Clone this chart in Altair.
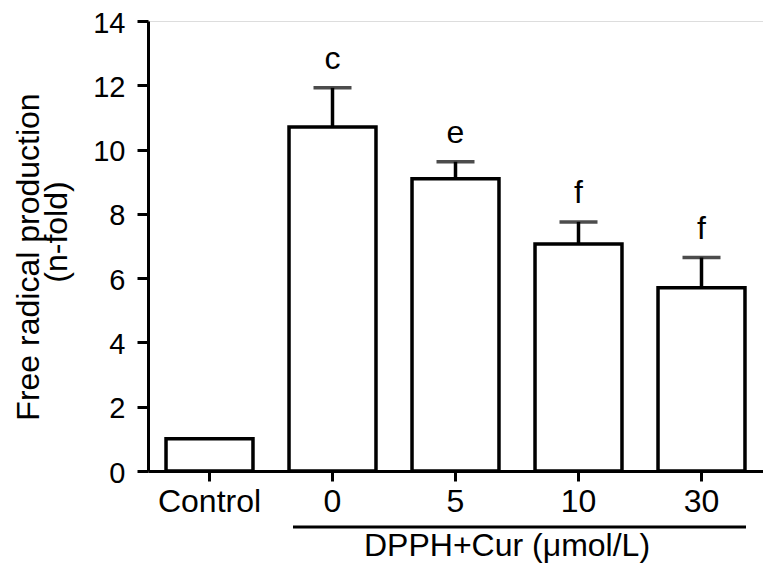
import altair as alt
import pandas as pd

categories = ["Control", "0", "5", "10", "30"]
means = [1.0, 10.70, 9.09, 7.06, 5.70]
errors = [0.0, 1.22, 0.53, 0.69, 0.94]
letters = ["", "c", "e", "f", "f"]
y_ticks = [0, 2, 4, 6, 8, 10, 12, 14]
group_label = ["DPPH+Cur (μmol/L)"]
y_title_lines = ["Free radical production", "(n-fold)"]

FONT = "Liberation Sans"

df = pd.DataFrame({"cat": categories, "mean": means, "err": errors, "letter": letters})
df["top"] = df["mean"] + df["err"]
df_err = df[df["err"] > 0]

x_scale = alt.Scale(domain=categories, paddingInner=0.293, paddingOuter=0.1465)
y_scale = alt.Scale(domain=[0, 14], nice=False)

x_enc = alt.X("cat:N", sort=categories, scale=x_scale,
              axis=alt.Axis(title=None, labelAngle=0, labelFont=FONT, labelFontSize=32,
                            labelColor="black", tickSize=10, tickWidth=3, tickColor="black",
                            domainWidth=3, domainColor="black", labelPadding=5))
y_enc = alt.Y("mean:Q", scale=y_scale,
              axis=alt.Axis(values=y_ticks, title=None, grid=False,
                            labelFont=FONT, labelFontSize=29, labelColor="black",
                            labelOffset=2,
                            tickSize=11, tickWidth=3, tickColor="black",
                            domainWidth=3, domainColor="black", labelPadding=12))

bars = alt.Chart(df).mark_bar(fill="white", stroke="black", strokeWidth=3.5).encode(
    x=x_enc, y=y_enc)

err_rule = alt.Chart(df_err).mark_rule(color="black", strokeWidth=3.5).encode(
    x=alt.X("cat:N", sort=categories, scale=x_scale),
    y=alt.Y("mean:Q", scale=y_scale), y2="top:Q")

err_cap = alt.Chart(df_err).mark_tick(color="black", thickness=3.5, size=38).encode(
    x=alt.X("cat:N", sort=categories, scale=x_scale), y=alt.Y("top:Q", scale=y_scale))

letter_text = alt.Chart(df_err).mark_text(font=FONT, fontSize=32, color="black",
                                         baseline="alphabetic", dy=-19).encode(
    x=alt.X("cat:N", sort=categories, scale=x_scale),
    y=alt.Y("top:Q", scale=y_scale), text="letter:N")

gdf = pd.DataFrame({"label": group_label})
group_line = alt.Chart(gdf).mark_rule(color="black", strokeWidth=3).encode(
    x=alt.value(145), x2=alt.value(598), y=alt.value(506))
group_text = alt.Chart(gdf).mark_text(font=FONT, fontSize=32, color="black",
                                      baseline="middle").encode(
    x=alt.value(359), y=alt.value(525), text="label:N")

t1 = alt.Chart(pd.DataFrame({"t": [y_title_lines[0]]})).mark_text(
    font=FONT, fontSize=32, color="black", angle=270, baseline="alphabetic",
    align="center").encode(x=alt.value(-109), y=alt.value(236), text="t:N")
t2 = alt.Chart(pd.DataFrame({"t": [y_title_lines[1]]})).mark_text(
    font=FONT, fontSize=32, color="black", angle=270, baseline="alphabetic",
    align="center").encode(x=alt.value(-81), y=alt.value(211), text="t:N")

chart = alt.layer(bars, err_rule, err_cap, letter_text, group_line, group_text, t1, t2).properties(
    width=615, height=450,
    autosize=alt.AutoSizeParams(type="none"),
    padding={"left": 140, "top": 13, "right": 0, "bottom": 92},
).configure_view(stroke=None).configure(background="white")

chart.save("out.html", embed_options={"renderer": "svg", "actions": False})
